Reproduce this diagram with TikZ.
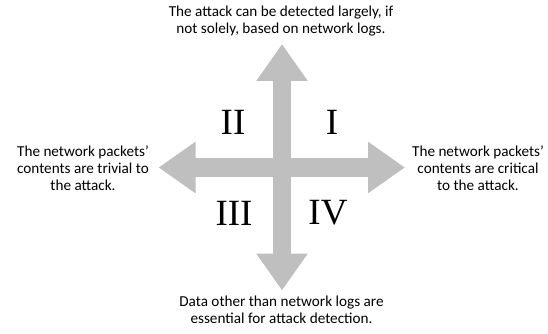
\documentclass[tikz,border=0pt]{standalone}
\usepackage{fontspec}
\setmainfont{Carlito}
\newfontfamily\numfont{Liberation Serif}
\usepackage{tikz}
\usetikzlibrary{arrows.meta}
\definecolor{arrowgray}{rgb}{0.75, 0.75, 0.75}
\tikzset{
  axistext/.style={align=center, inner sep=0pt,
    font=\fontsize{15.2}{17}\selectfont},
  quadrant/.style={inner sep=0pt, font=\numfont\fontsize{37}{37}\selectfont},
  fatarrow/.style={arrowgray, line width=18.5pt,
    {Triangle[length=37pt,width=49pt]}-{Triangle[length=37pt,width=49pt]}},
}
\begin{document}
\begin{tikzpicture}[x=1pt, y=-1pt]
\useasboundingbox (0,0) rectangle (548,334);

%%%%%%%%%%%%%%
% Axes
%%%%%%%%%%%%%%
  % points
  \coordinate (N) at (282, 44);
  \coordinate (S) at (282, 290.5);
  \coordinate (W) at (158.5, 167.5);
  \coordinate (E) at (405, 167.5);

  % legs
  \draw[fatarrow] (S) -- (N);
  \draw[fatarrow] (W) -- (E);

%%%%%%%%%%%%%%
% Axis descriptors
%%%%%%%%%%%%%%
  \node[axistext] (logs) at (281, 21.5)
        {The attack can be detected largely, if\\not solely, based on network logs.};
  \node[axistext] (other) at (281.5, 309.5)
        {Data other than network logs are\\essential for attack detection.};
  \node[axistext] (trivial) at (83, 168.5)
        {The network packets'\\contents are trivial to\\the attack.};
  \node[axistext] (critical) at (478, 168.5)
        {The network packets'\\contents are critical\\to the attack.};

% Quadrant labels
  \node[quadrant] (q1) at (332, 122) {I};
  \node[quadrant] (q2) at (233, 122) {II};
  \node[quadrant] (q3) at (234, 213) {III};
  \node[quadrant] (q4) at (328, 213) {IV};

\end{tikzpicture}
\end{document}
